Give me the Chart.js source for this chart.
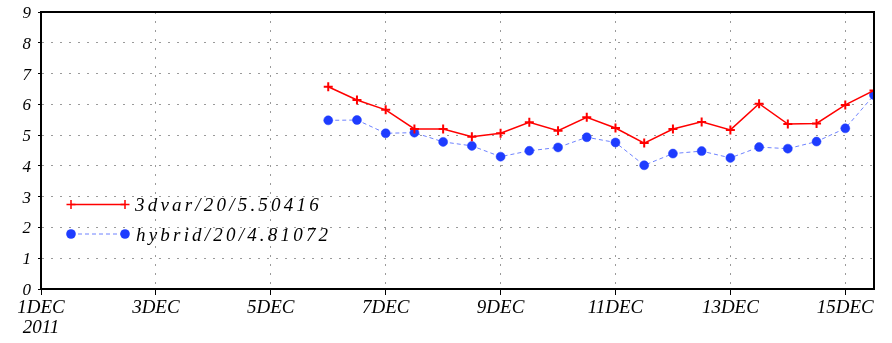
<!DOCTYPE html>
<html>
<head>
<meta charset="utf-8">
<script src="https://cdn.jsdelivr.net/npm/chart.js@4.4.0/dist/chart.umd.min.js"></script>
<style>
  html, body { margin: 0; padding: 0; background: #fff; }
  #wrap { width: 892px; height: 343px; position: relative; }
</style>
</head>
<body>
<div id="wrap"><canvas id="c" width="892" height="343"></canvas></div>
<script>
// ---- data (day of December 2011, every 12 h) ----
const times  = [6, 6.5, 7, 7.5, 8, 8.5, 9, 9.5, 10, 10.5, 11, 11.5, 12, 12.5, 13, 13.5, 14, 14.5, 15, 15.5];
const var3d  = [6.57, 6.14, 5.82, 5.20, 5.20, 4.95, 5.06, 5.42, 5.14, 5.58,
                5.23, 4.74, 5.20, 5.43, 5.17, 6.02, 5.36, 5.38, 5.98, 6.45];
const hybrid = [5.48, 5.49, 5.06, 5.08, 4.78, 4.65, 4.30, 4.49, 4.60, 4.93,
                4.76, 4.02, 4.40, 4.48, 4.26, 4.61, 4.56, 4.79, 5.22, 6.30];
const seriesNames = ['3dvar/20/5.50416', 'hybrid/20/4.81072'];
const xTickDays   = [1, 3, 5, 7, 9, 11, 13, 15];
const xTickLabels = ['1DEC', '3DEC', '5DEC', '7DEC', '9DEC', '11DEC', '13DEC', '15DEC'];
const yearLabel   = '2011';
const yTicks      = [0, 1, 2, 3, 4, 5, 6, 7, 8, 9];

const RED = '#ff0000';
const BLUE_PT = 'rgb(30,60,255)';
const BLUE_LN = 'rgb(110,130,255)';
const FONT = 'Liberation Serif';

const toXY = (ys) => ys.map((y, i) => ({ x: times[i], y: y }));

const framePlugin = {
  id: 'frameAndLegend',
  afterDraw(chart) {
    const { ctx, chartArea: a } = chart;
    ctx.save();
    ctx.strokeStyle = '#000';
    ctx.lineWidth = 2;
    ctx.setLineDash([]);
    ctx.strokeRect(a.left, a.top, a.right - a.left, a.bottom - a.top);

    // legend
    const lx1 = 71, lx2 = 125, ly1 = 204.5, ly2 = 234;
    // 3dvar
    ctx.strokeStyle = RED; ctx.lineWidth = 1.5;
    ctx.beginPath(); ctx.moveTo(lx1, ly1); ctx.lineTo(lx2, ly1); ctx.stroke();
    [lx1, lx2].forEach(x => {
      ctx.lineWidth = 1.5;
      ctx.beginPath();
      ctx.moveTo(x - 4.5, ly1); ctx.lineTo(x + 4.5, ly1);
      ctx.moveTo(x, ly1 - 4.5); ctx.lineTo(x, ly1 + 4.5);
      ctx.stroke();
    });
    // hybrid
    ctx.strokeStyle = BLUE_LN; ctx.lineWidth = 1;
    ctx.setLineDash([4, 3]);
    ctx.beginPath(); ctx.moveTo(lx1, ly2); ctx.lineTo(lx2, ly2); ctx.stroke();
    ctx.setLineDash([]);
    ctx.fillStyle = BLUE_PT;
    [lx1, lx2].forEach(x => {
      ctx.beginPath(); ctx.arc(x, ly2, 4.8, 0, Math.PI * 2); ctx.fill();
    });
    ctx.fillStyle = '#000';
    ctx.font = 'italic 19px "' + FONT + '"';
    try { ctx.letterSpacing = '3.2px'; } catch (e) {}
    ctx.textAlign = 'left';
    ctx.textBaseline = 'alphabetic';
    ctx.fillText(seriesNames[0], 135, ly1 + 6.5);
    ctx.fillText(seriesNames[1], 136, ly2 + 6.5);
    try { ctx.letterSpacing = '0px'; } catch (e) {}
    ctx.restore();
  }
};

new Chart(document.getElementById('c'), {
  type: 'line',
  data: {
    datasets: [
      {
        label: seriesNames[0],
        data: toXY(var3d),
        borderColor: RED,
        backgroundColor: RED,
        borderWidth: 1.5,
        pointStyle: 'cross',
        pointRadius: 4.5,
        pointBorderWidth: 2,
        pointBorderColor: RED,
        tension: 0,
        fill: false
      },
      {
        label: seriesNames[1],
        data: toXY(hybrid),
        borderColor: BLUE_LN,
        backgroundColor: BLUE_PT,
        borderWidth: 1,
        borderDash: [4, 3],
        pointStyle: 'circle',
        pointRadius: 4.5,
        pointBorderWidth: 0.5,
        pointBackgroundColor: BLUE_PT,
        pointBorderColor: BLUE_PT,
        tension: 0,
        fill: false
      }
    ]
  },
  options: {
    responsive: false,
    animation: false,
    devicePixelRatio: 1,
    layout: { padding: { top: 12, right: 18, left: 0, bottom: 0 } },
    plugins: { legend: { display: false }, tooltip: { enabled: false }, title: { display: false } },
    scales: {
      x: {
        type: 'linear',
        min: 1,
        max: 15.5,
        afterBuildTicks: s => { s.ticks = xTickDays.map(v => ({ value: v })); },
        afterFit: s => { s.height = 54; s.paddingLeft = 0; s.paddingRight = 0; },
        ticks: {
          autoSkip: false,
          maxRotation: 0,
          minRotation: 0,
          padding: 3,
          color: '#000',
          font: { family: FONT, style: 'italic', size: 19, lineHeight: '20px' },
          callback: (v) => {
            const i = xTickDays.indexOf(v);
            if (i < 0) return '';
            return i === 0 ? [xTickLabels[0], yearLabel] : xTickLabels[i];
          }
        },
        grid: { color: '#9a9a9a', lineWidth: 1, tickLength: 6, tickColor: '#000', tickWidth: 1 },
        border: { color: '#000', width: 2, dash: [2, 7] }
      },
      y: {
        type: 'linear',
        min: 0,
        max: 9,
        afterBuildTicks: s => { s.ticks = yTicks.map(v => ({ value: v })); },
        afterFit: s => { s.width = 41; s.paddingTop = 0; s.paddingBottom = 0; },
        ticks: {
          padding: 7,
          color: '#000',
          labelOffset: 1.5,
          font: { family: FONT, style: 'italic', size: 17 },
          callback: v => String(v)
        },
        grid: { color: '#9a9a9a', lineWidth: 1, tickLength: 3, tickColor: '#000', tickWidth: 1 },
        border: { color: '#000', width: 2, dash: [2, 7] }
      }
    }
  },
  plugins: [framePlugin]
});
</script>
</body>
</html>
